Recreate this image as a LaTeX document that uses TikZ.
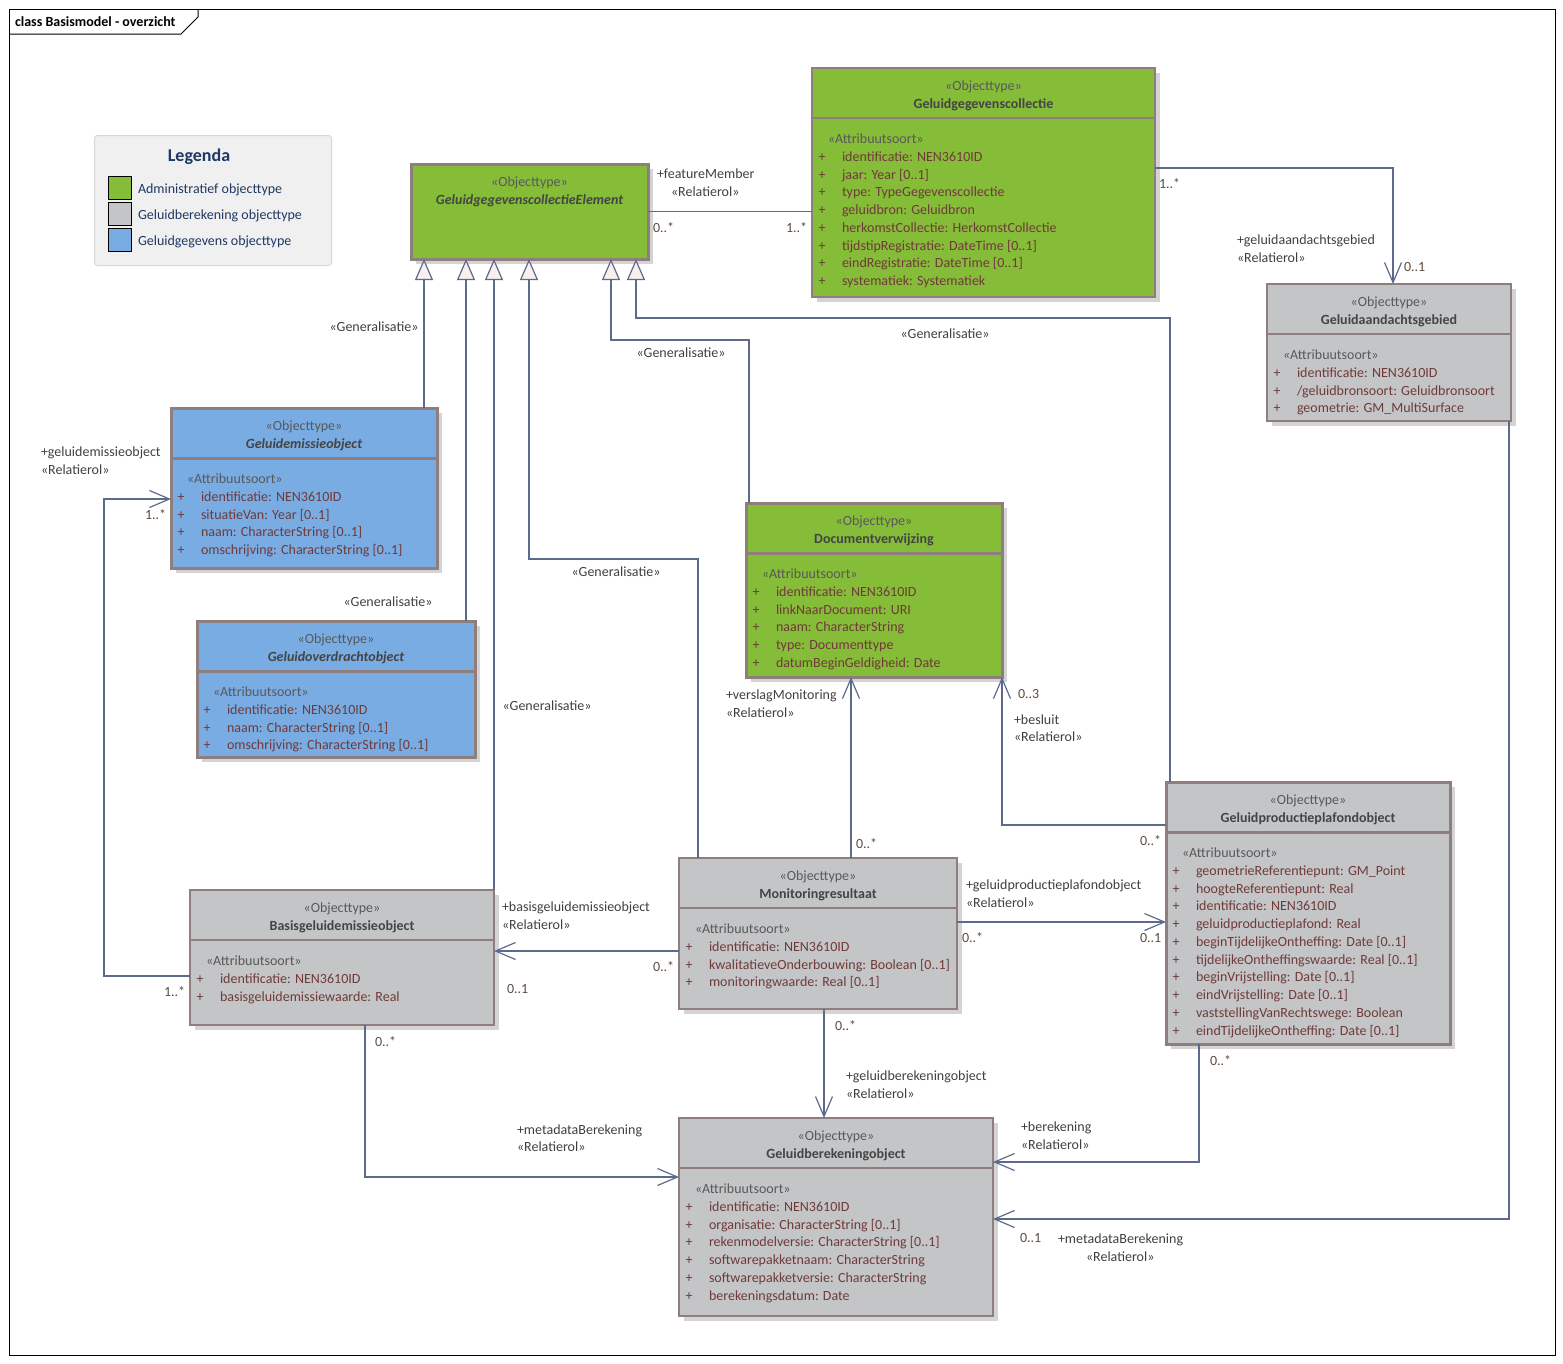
\documentclass[tikz,border=0pt]{standalone}
\usepackage{fontspec}
\setmainfont{Carlito}
\usetikzlibrary{arrows.meta,shadows}
\definecolor{cgreen}{HTML}{85BC38}
\definecolor{cgray}{HTML}{C4C5C7}
\definecolor{cblue}{HTML}{78ACE3}
\definecolor{cborder}{HTML}{8E7E7E}
\definecolor{cline}{HTML}{5C6B8C}
\definecolor{cstereo}{HTML}{595959}
\definecolor{cnametxt}{HTML}{444444}
\definecolor{cattr}{HTML}{703A3A}
\definecolor{clabel}{HTML}{404040}
\definecolor{cmult}{HTML}{5E4B3E}
\definecolor{ctri}{HTML}{F8F0EC}
\definecolor{cnavy}{HTML}{1F3864}
\definecolor{clegbg}{HTML}{F0F0F0}
\definecolor{clegbd}{HTML}{D6D6D6}

\newcommand\clshead[3]{%
  \node[txt, stereo] (#1-st) at ([yshift=-16.5pt]#1.north) {«Objecttype»};
  \node[txt, clsname, #3] (#1-nm) at ([yshift=-34.5pt]#1.north) {#2};
}
\newcommand\divline[2]{%
  \draw[divider, #2] ([yshift=-50pt]#1.north west) -- ([yshift=-50pt]#1.north east);
}
\newcommand\attrlist[2]{%
  \node[txt, stereo, anchor=west] (#1-as) at ([xshift=16pt,yshift=-69.5pt]#1.north west) {«Attribuutsoort»};
  \foreach \itm [count=\i from 0] in {#2} {
    \node[txt, attr] (#1-p\i) at ([xshift=10pt,yshift={-(87.5+17.75*\i)*1pt}]#1.north west) {+};
    \node[txt, attr, anchor=west] (#1-a\i) at ([xshift=30pt,yshift={-(87.5+17.75*\i)*1pt}]#1.north west) {\itm};
  }%
}

\begin{document}
\begin{tikzpicture}[x=1pt, y=-1pt, font=\fontsize{14}{17}\selectfont,
  umlbox/.style={draw=cborder, line width=1.2pt, outer sep=0pt, inner sep=0pt, anchor=north west,
    drop shadow={shadow xshift=5pt, shadow yshift=-5pt, fill=black!17, opacity=1}},
  heavy/.style={line width=3pt},
  divider/.style={draw=cborder, line width=1.2pt},
  txt/.style={inner sep=0pt, outer sep=0pt, text height=13.5pt, text depth=2pt},
  stereo/.style={text=cstereo},
  clsname/.style={text=cnametxt, font=\fontsize{14}{17}\selectfont\bfseries},
  abstractname/.style={font=\fontsize{14}{17}\selectfont\bfseries\itshape},
  attr/.style={text=cattr},
  lbl/.style={txt, text=clabel, anchor=west},
  genlbl/.style={txt, text=clabel},
  mult/.style={txt, text=cmult, anchor=west},
  assoc/.style={draw=cline, line width=1.2pt},
  nav/.style={assoc, -{Straight Barb[length=20pt, width=17pt]}},
  gen/.style={assoc, -{Triangle[length=21pt, width=18pt, fill=ctri]}},
  swatch/.style={draw=black, line width=1.3pt, minimum size=23pt, inner sep=0pt, anchor=north west}
]
\useasboundingbox (0,0) rectangle (1563,1363);

% frame
\node[draw=black, line width=1pt, minimum width=1546pt, minimum height=1346pt, anchor=north west, inner sep=0pt, outer sep=0pt] (frame) at (9,9) {};
\draw[line width=1pt] ([yshift=-25pt]frame.north west) -- ++(172pt,0) -- ++(17pt,17pt) -- ([xshift=189pt]frame.north west);
\node[txt, anchor=west, font=\fontsize{14}{17}\selectfont\bfseries] (title) at (15,21) {class Basismodel - overzicht};

% legend
\node[fill=clegbg, draw=clegbd, line width=1pt, rounded corners=3pt, minimum width=237pt, minimum height=130pt, anchor=north west, inner sep=0pt] (legend) at (94,135) {};
\node[txt, text=cnavy, font=\fontsize{18}{22}\selectfont\bfseries] (legtitle) at (199,156) {Legenda};
\node[swatch, fill=cgreen] (sw1) at (108,176) {};
\node[swatch, fill=cgray] (sw2) at (108,202) {};
\node[swatch, fill=cblue] (sw3) at (108,228) {};
\node[txt, text=cnavy, anchor=west] (lt1) at (138,187.5) {Administratief objecttype};
\node[txt, text=cnavy, anchor=west] (lt2) at (138,213.5) {Geluidberekening objecttype};
\node[txt, text=cnavy, anchor=west] (lt3) at (138,239.5) {Geluidgegevens objecttype};

% classes
\node[umlbox, heavy, fill=cgreen, minimum width=237pt, minimum height=95pt] (ggce) at (411,164) {};
\clshead{ggce}{GeluidgegevenscollectieElement}{abstractname}

\node[umlbox, fill=cgreen, minimum width=343pt, minimum height=229pt] (ggc) at (812,68) {};
\divline{ggc}{}
\clshead{ggc}{Geluidgegevenscollectie}{}
\attrlist{ggc}{identificatie: NEN3610ID, jaar: Year [0..1], type: TypeGegevenscollectie, geluidbron: Geluidbron, herkomstCollectie: HerkomstCollectie, tijdstipRegistratie: DateTime [0..1], eindRegistratie: DateTime [0..1], systematiek: Systematiek}

\node[umlbox, fill=cgray, minimum width=244pt, minimum height=137pt] (gag) at (1267,284) {};
\divline{gag}{}
\clshead{gag}{Geluidaandachtsgebied}{}
\attrlist{gag}{identificatie: NEN3610ID, /geluidbronsoort: Geluidbronsoort, geometrie: GM\_MultiSurface}

\node[umlbox, heavy, fill=cblue, minimum width=266pt, minimum height=160pt] (ge) at (171,408) {};
\divline{ge}{heavy}
\clshead{ge}{Geluidemissieobject}{abstractname}
\attrlist{ge}{identificatie: NEN3610ID, situatieVan: Year [0..1], naam: CharacterString [0..1], omschrijving: CharacterString [0..1]}

\node[umlbox, heavy, fill=cblue, minimum width=278pt, minimum height=136pt] (geo) at (197,621) {};
\divline{geo}{heavy}
\clshead{geo}{Geluidoverdrachtobject}{abstractname}
\attrlist{geo}{identificatie: NEN3610ID, naam: CharacterString [0..1], omschrijving: CharacterString [0..1]}

\node[umlbox, heavy, fill=cgreen, minimum width=256pt, minimum height=174pt] (doc) at (746,503) {};
\divline{doc}{heavy}
\clshead{doc}{Documentverwijzing}{}
\attrlist{doc}{identificatie: NEN3610ID, linkNaarDocument: URI, naam: CharacterString, type: Documenttype, datumBeginGeldigheid: Date}

\node[umlbox, heavy, fill=cgray, minimum width=284pt, minimum height=262pt] (gpp) at (1166,782) {};
\divline{gpp}{heavy}
\clshead{gpp}{Geluidproductieplafondobject}{}
\attrlist{gpp}{geometrieReferentiepunt: GM\_Point, hoogteReferentiepunt: Real, identificatie: NEN3610ID, geluidproductieplafond: Real, beginTijdelijkeOntheffing: Date [0..1], tijdelijkeOntheffingswaarde: Real [0..1], beginVrijstelling: Date [0..1], eindVrijstelling: Date [0..1], vaststellingVanRechtswege: Boolean, eindTijdelijkeOntheffing: Date [0..1]}

\node[umlbox, fill=cgray, minimum width=304pt, minimum height=135pt] (bge) at (190,890) {};
\divline{bge}{}
\clshead{bge}{Basisgeluidemissieobject}{}
\attrlist{bge}{identificatie: NEN3610ID, basisgeluidemissiewaarde: Real}

\node[umlbox, fill=cgray, minimum width=278pt, minimum height=151pt] (mon) at (679,858) {};
\divline{mon}{}
\clshead{mon}{Monitoringresultaat}{}
\attrlist{mon}{identificatie: NEN3610ID, kwalitatieveOnderbouwing: Boolean [0..1], monitoringwaarde: Real [0..1]}

\node[umlbox, fill=cgray, minimum width=314pt, minimum height=198pt] (gbo) at (679,1118) {};
\divline{gbo}{}
\clshead{gbo}{Geluidberekeningobject}{}
\attrlist{gbo}{identificatie: NEN3610ID, organisatie: CharacterString [0..1], rekenmodelversie: CharacterString [0..1], softwarepakketnaam: CharacterString, softwarepakketversie: CharacterString, berekeningsdatum: Date}

% generalisations
\draw[gen] ([xshift=253pt]ge.north west) -- ([xshift=13pt]ggce.south west);
\draw[gen] ([xshift=269pt]geo.north west) -- ([xshift=55pt]ggce.south west);
\draw[gen] (bge.north east) -- ([xshift=83pt]ggce.south west);
\draw[gen] ([xshift=19pt]mon.north west) |- ([xshift=118pt,yshift=-300pt]ggce.south west) -- ([xshift=118pt]ggce.south west);
\draw[gen] ([xshift=3pt]doc.north west) |- ([xshift=200pt,yshift=-81pt]ggce.south west) -- ([xshift=200pt]ggce.south west);
\draw[gen] ([xshift=4pt]gpp.north west) |- ([xshift=225pt,yshift=-59pt]ggce.south west) -- ([xshift=225pt]ggce.south west);
\node[genlbl] (g1) at (374,326) {«Generalisatie»};
\node[genlbl] (g2) at (388,601) {«Generalisatie»};
\node[genlbl] (g3) at (547,705) {«Generalisatie»};
\node[genlbl] (g4) at (616,571) {«Generalisatie»};
\node[genlbl] (g5) at (681,352) {«Generalisatie»};
\node[genlbl] (g6) at (945,333) {«Generalisatie»};

% associations
\draw[assoc] (ggce.east) -- (ggce.east -| ggc.west);
\node[lbl] (r1a) at (657,173) {+featureMember};
\node[lbl] (r1b) at (671,191) {«Relatierol»};
\node[mult] (m1a) at (653,227) {0..*};
\node[mult] (m1b) at (786,227) {1..*};

\draw[nav] ([yshift=-100pt]ggc.north east) -| ([xshift=126pt]gag.north west);
\node[mult] (m2a) at (1159,183) {1..*};
\node[lbl] (r2a) at (1237,239) {+geluidaandachtsgebied};
\node[lbl] (r2b) at (1237,257) {«Relatierol»};
\node[mult] (m2b) at (1404,266) {0..1};

\draw[nav] ([xshift=-2pt]gag.south east) |- ([yshift=-101pt]gbo.north east);
\node[mult] (m3a) at (1020,1237) {0..1};
\node[lbl] (r3a) at (1058,1238) {+metadataBerekening};
\node[lbl] (r3b) at (1086,1256) {«Relatierol»};

\draw[nav] ([yshift=-86pt]bge.north west) -| ([xshift=-67pt,yshift=-91pt]ge.north west) -- ([yshift=-91pt]ge.north west);
\node[lbl] (r4a) at (41,451) {+geluidemissieobject};
\node[lbl] (r4b) at (41,469) {«Relatierol»};
\node[mult] (m4a) at (145,514) {1..*};
\node[mult] (m4b) at (164,991) {1..*};

\coordinate (c5) at ([yshift=-93pt]mon.north west);
\draw[nav] (c5) -- (c5 -| bge.east);
\node[lbl] (r5a) at (502,906) {+basisgeluidemissieobject};
\node[lbl] (r5b) at (502,924) {«Relatierol»};
\node[mult] (m5a) at (653,966) {0..*};
\node[mult] (m5b) at (507,988) {0..1};

\draw[nav] ([xshift=172pt]mon.north west) -- ([xshift=105pt]doc.south west);
\node[lbl] (r6a) at (726,694) {+verslagMonitoring};
\node[lbl] (r6b) at (726,712) {«Relatierol»};
\node[mult] (m6a) at (856,843) {0..*};

\draw[nav] ([yshift=-43pt]gpp.north west) -| (doc.south east);
\node[mult] (m7a) at (1018,693) {0..3};
\node[lbl] (r7a) at (1014,719) {+besluit};
\node[lbl] (r7b) at (1014,736) {«Relatierol»};
\node[mult] (m7b) at (1140,840) {0..*};

\coordinate (c8) at ([yshift=-64pt]mon.north east);
\draw[nav] (c8) -- (c8 -| gpp.west);
\node[lbl] (r8a) at (966,884) {+geluidproductieplafondobject};
\node[lbl] (r8b) at (966,902) {«Relatierol»};
\node[mult] (m8a) at (962,937) {0..*};
\node[mult] (m8b) at (1140,937) {0..1};

\draw[nav] ([xshift=145pt]mon.south west) -- ([xshift=145pt]gbo.north west);
\node[mult] (m9a) at (835,1025) {0..*};
\node[lbl] (r9a) at (846,1075) {+geluidberekeningobject};
\node[lbl] (r9b) at (846,1093) {«Relatierol»};

\draw[nav] ([xshift=175pt]bge.south west) |- ([yshift=-59pt]gbo.north west);
\node[mult] (m10a) at (375,1041) {0..*};
\node[lbl] (r10a) at (517,1129) {+metadataBerekening};
\node[lbl] (r10b) at (517,1146) {«Relatierol»};

\draw[nav] ([xshift=33pt]gpp.south west) |- ([yshift=-44pt]gbo.north east);
\node[mult] (m11a) at (1210,1060) {0..*};
\node[lbl] (r11a) at (1021,1126) {+berekening};
\node[lbl] (r11b) at (1021,1144) {«Relatierol»};
\end{tikzpicture}
\end{document}
